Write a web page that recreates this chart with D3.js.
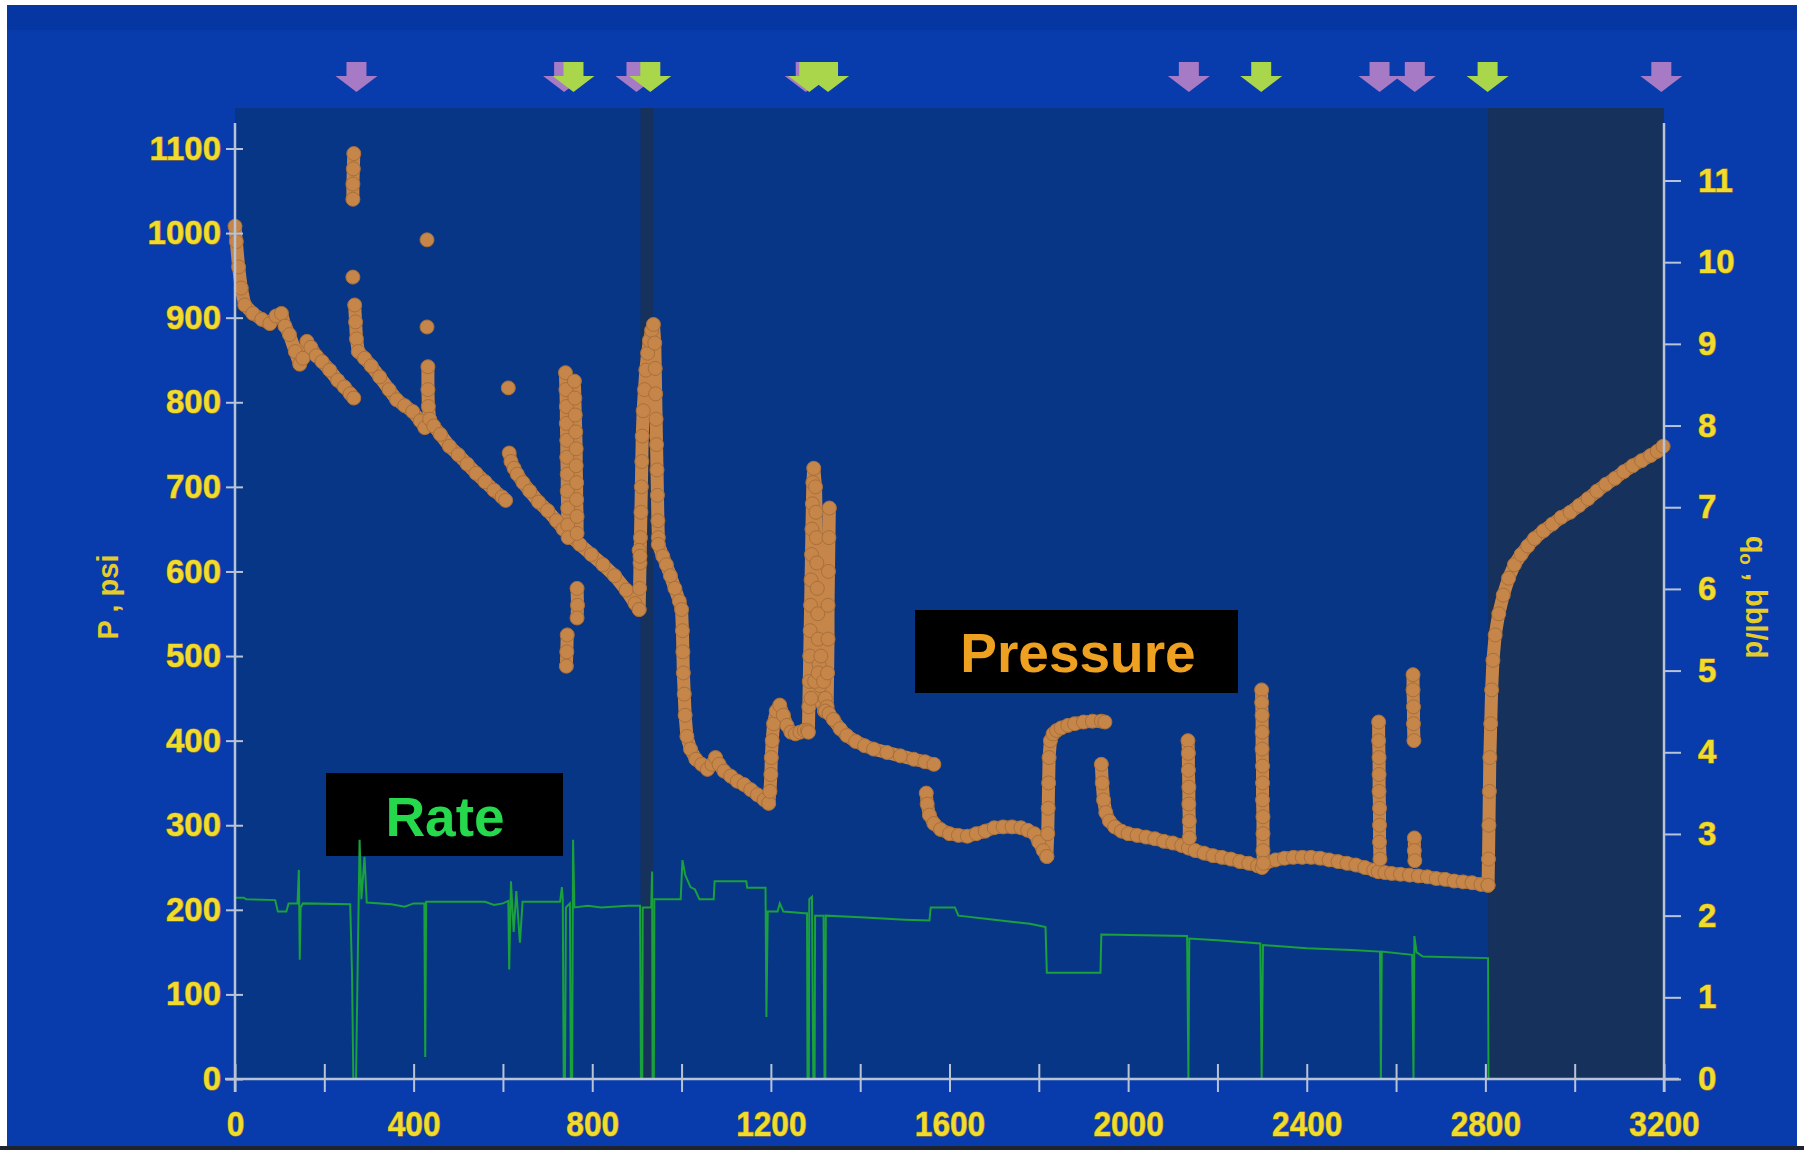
<!DOCTYPE html>
<html>
<head>
<meta charset="utf-8">
<script src="https://cdn.jsdelivr.net/npm/d3@7"></script>
<style>
  html, body { margin: 0; padding: 0; background: #ffffff; }
  svg { display: block; font-family: "Liberation Sans", Arial, sans-serif; font-weight: bold; }
</style>
</head>
<body>
<svg id="chart" width="1804" height="1150"></svg>
<script>
// ---- axis ticks ----
const timeTicks = [0, 200, 400, 600, 800, 1000, 1200, 1400, 1600, 1800, 2000, 2200, 2400, 2600, 2800, 3000, 3200];
const timeLabels = [0, 400, 800, 1200, 1600, 2000, 2400, 2800, 3200];
const pressureTicks = [0, 100, 200, 300, 400, 500, 600, 700, 800, 900, 1000, 1100];
const rateTicks = [0, 1, 2, 3, 4, 5, 6, 7, 8, 9, 10, 11];

// ---- shut-in / event markers (hours) ----
const purpleEvents = [272, 737, 899, 1278, 2136, 2563, 2642, 3194];
const greenEvents = [758, 930, 1286, 1328, 2298, 2805];
const shadedPeriods = [[908, 936], [2806, 3200]];

// ---- pressure, psi: each run is [hours, psi] ----
const pDecline1 = [[0,1008],[3,990],[8,960],[14,935],[22,915],[40,905],[60,898],[78,893],[92,902],[104,905],[112,890],[122,880],[135,860],[145,845],[152,852],[161,872],[170,865],[182,855],[195,848],[212,838],[230,826],[245,818],[258,810],[266,805]];
const pSpike264 = [[264,1040],[264,1058],[265,1076],[266,1094]];
const pDecline2 = [[268,915],[270,895],[272,875],[276,860],[290,852],[305,843],[324,830],[345,815],[362,803],[380,796],[398,789],[415,778],[425,770]];
const pDecline3 = [[432,842],[432,815],[433,795],[436,780],[445,772],[460,762],[480,748],[500,738],[520,727],[540,716],[560,706],[580,696],[598,688],[606,684]];
const pDecline4 = [[614,740],[618,730],[625,722],[632,715],[645,705],[660,695],[680,682],[700,672],[720,660],[735,650],[750,642],[772,632],[798,620],[824,608],[850,595],[876,578],[896,562],[905,555]];
const pColumn742 = [[740,835],[741,815],[742,795],[742,775],[743,755],[743,735],[744,715],[744,695],[745,675],[745,655],[746,640]];
const pColumn762 = [[760,825],[761,805],[762,785],[763,765],[764,745],[764,725],[765,705],[765,685],[766,665],[766,645]];
const pCluster744 = [[744,525],[743,505],[742,488]];
const pCluster766 = [[766,580],[767,560],[766,545]];
const pSpike930 = [[905,555],[906,580],[907,610],[908,640],[909,670],[910,700],[911,730],[912,760],[914,790],[917,815],[920,838],[924,858],[928,873],[933,885],[937,892],[940,870],[941,840],[942,810],[943,780],[944,750],[945,720],[946,690],[947,660],[948,640]];
const pDecline5 = [[948,632],[958,618],[966,608],[975,595],[985,580],[995,565],[1000,555],[1002,530],[1003,505],[1004,480],[1006,455],[1008,430],[1012,405],[1020,390],[1032,378],[1045,372],[1058,366],[1068,372],[1076,380],[1084,372],[1095,364],[1110,358],[1125,352],[1140,348],[1155,342],[1170,336],[1185,330],[1195,326]];
const pRise1200 = [[1195,326],[1198,340],[1200,360],[1201,380],[1203,400],[1206,420],[1212,435],[1220,442],[1228,430],[1236,418],[1245,410],[1255,408],[1265,410],[1275,412],[1282,412]];
const pSpike1290 = [[1284,410],[1285,440],[1286,470],[1287,500],[1288,530],[1289,560],[1290,590],[1291,620],[1292,650],[1293,680],[1294,705],[1296,722],[1300,700],[1301,670],[1302,640],[1303,610],[1304,580],[1305,550],[1306,520],[1308,490],[1310,465],[1314,445],[1320,435]];
const pCluster1300 = [[1290,450],[1298,470],[1306,480],[1312,500],[1318,470],[1322,450]];
const pSpike1328 = [[1326,440],[1327,480],[1328,520],[1328,560],[1329,600],[1330,640],[1331,675]];
const pDecline6 = [[1322,435],[1330,432],[1340,425],[1355,414],[1370,406],[1390,399],[1410,394],[1430,390],[1460,386],[1490,382],[1520,378],[1545,375],[1565,372]];
const pDecline7 = [[1548,338],[1550,325],[1555,312],[1565,302],[1580,295],[1600,290],[1620,288],[1640,287],[1660,290],[1680,293],[1700,297],[1720,298],[1740,298],[1760,297],[1775,294],[1790,290],[1800,280],[1810,270],[1818,263]];
const pBuildup1820 = [[1818,263],[1820,290],[1821,320],[1822,350],[1823,380],[1826,400],[1832,408],[1840,412],[1850,415],[1865,418],[1880,420],[1900,422],[1920,423],[1940,423],[1948,422]];
const pDecline8 = [[1940,372],[1942,350],[1945,330],[1950,315],[1958,305],[1970,298],[1985,293],[2000,290],[2020,288],[2040,286],[2060,284],[2080,281],[2100,279],[2120,276],[2135,273],[2150,270],[2170,267],[2190,264],[2210,262],[2230,260],[2250,257],[2270,255],[2290,252],[2300,250],[2310,256],[2330,259],[2350,261],[2370,262],[2390,262],[2410,262],[2430,261],[2450,259],[2470,257],[2490,255],[2510,253],[2530,250],[2550,247],[2560,245],[2575,244],[2590,243],[2610,242],[2630,241],[2650,240],[2670,239],[2690,237],[2710,236],[2730,234],[2750,233],[2770,232],[2790,230],[2806,229]];
const pSpike2135 = [[2134,400],[2135,385],[2135,365],[2136,345],[2136,325],[2137,305],[2137,285]];
const pSpike2300 = [[2299,460],[2299,445],[2300,430],[2300,410],[2300,390],[2301,370],[2301,350],[2301,330],[2302,310],[2302,290],[2302,270],[2303,255]];
const pSpike2562 = [[2561,422],[2561,400],[2562,380],[2562,360],[2562,340],[2563,320],[2563,300],[2563,280],[2564,260]];
const pSpike2640 = [[2638,478],[2638,460],[2639,440],[2639,420],[2640,400]];
const pCluster2641 = [[2641,285],[2641,270],[2642,258]];
const pBuildup2807 = [[2806,229],[2807,260],[2808,300],[2809,340],[2810,380],[2812,420],[2814,460],[2817,495],[2822,525],[2830,550],[2840,572],[2852,592],[2865,608],[2880,620],[2895,630],[2910,639],[2930,648],[2950,656],[2970,664],[2990,670],[3010,678],[3030,686],[3050,695],[3070,703],[3090,710],[3110,718],[3130,725],[3150,731],[3170,737],[3185,742],[3198,748]];
const pressureDots = [[264,948],[430,992],[430,889],[612,817],[905,625],[907,618]];

// ---- oil rate, bbl/d: [hours, q] ----
const oilRate = [[0,2.22],[20,2.22],[25,2.2],[90,2.19],[96,2.05],[115,2.05],[120,2.15],[140,2.15],[143,2.56],[145,1.46],[147,2.1],[152,2.15],[258,2.14],[262,1.3],[265,0],[271,0],[275,1.5],[279,2.93],[283,2.2],[290,2.72],[295,2.16],[350,2.14],[380,2.11],[400,2.15],[424,2.15],[426,0.27],[428,2.17],[560,2.17],[580,2.13],[600,2.15],[612,2.18],[614,1.34],[618,2.42],[624,1.8],[630,2.3],[638,1.67],[644,2.17],[728,2.17],[732,2.35],[734,2.2],[736,0],[739,0],[741,2.1],[750,2.15],[752,0],[755,0],[757,2.93],[760,2.1],[790,2.12],[820,2.1],[880,2.12],[907,2.12],[909,0],[912,0],[913,2.1],[932,2.1],[934,2.54],[935,0],[938,0],[939,2.2],[998,2.2],[1002,2.68],[1008,2.5],[1020,2.35],[1030,2.32],[1040,2.2],[1072,2.2],[1074,2.42],[1145,2.42],[1147,2.34],[1188,2.34],[1190,0.76],[1193,2.05],[1215,2.05],[1220,2.15],[1228,2.05],[1276,2.03],[1281,2.03],[1282,0],[1285,0],[1286,2.2],[1292,2.23],[1295,0],[1298,0],[1299,2.0],[1318,2.0],[1320,0],[1322,0],[1323,2.0],[1400,1.98],[1500,1.95],[1555,1.94],[1558,2.1],[1612,2.1],[1620,2.0],[1700,1.95],[1780,1.9],[1815,1.86],[1818,1.3],[1938,1.3],[1940,1.77],[2132,1.75],[2135,0],[2137,1.72],[2200,1.7],[2296,1.66],[2299,0],[2302,1.64],[2400,1.6],[2500,1.58],[2564,1.56],[2566,0],[2568,1.56],[2636,1.52],[2639,0],[2641,1.75],[2646,1.55],[2660,1.5],[2806,1.48],[2807,0],[3200,0]];

const pressureRuns = [pDecline1, pSpike264, pDecline2, pDecline3, pDecline4, pColumn742, pColumn762, pCluster744, pCluster766,
  pSpike930, pDecline5, pRise1200, pSpike1290, pCluster1300, pSpike1328, pDecline6, pDecline7, pBuildup1820, pDecline8,
  pSpike2135, pSpike2300, pSpike2562, pSpike2640, pCluster2641, pBuildup2807];

// ---- colours ----
const C = {
  frame: "#083bab", band: "#0636a2", plot: "#083686", shade: "#15315c", axis: "#b9c3d6",
  tick: "#f0dc2c", tickEdge: "#a8801a", pressure: "#c6864a", pressureEdge: "#a8703a",
  rate: "#1aa03c", purple: "#a77ac6", green: "#a9d64a"
};

const svg = d3.select("#chart");
const x = d3.scaleLinear().domain([0, 3200]).range([235, 1664]);
const yP = d3.scaleLinear().domain([0, 1100]).range([1079, 148.5]);
const yQ = d3.scaleLinear().domain([0, 11]).range([1079, 180.5]);

// frame
svg.append("rect").attr("x", 7).attr("y", 5).attr("width", 1790).attr("height", 1141).attr("fill", C.frame);
svg.append("rect").attr("x", 7).attr("y", 5).attr("width", 1790).attr("height", 25).attr("fill", C.band);
svg.append("rect").attr("x", 0).attr("y", 1146).attr("width", 1804).attr("height", 4).attr("fill", "#1d2430");

// plot area
const plotTop = 108;
svg.append("rect").attr("x", x(0)).attr("y", plotTop).attr("width", x(3200) - x(0)).attr("height", yP(0) - plotTop).attr("fill", C.plot);
svg.selectAll("rect.shade").data(shadedPeriods).join("rect").attr("class", "shade")
  .attr("x", d => x(d[0])).attr("y", plotTop).attr("width", d => x(d[1]) - x(d[0])).attr("height", yP(0) - plotTop)
  .attr("fill", C.shade);

// event arrows
const arrowShape = "M-10,62H10V76H21L0,92L-21,76H-10Z";
svg.selectAll("path.evP").data(purpleEvents).join("path").attr("class", "evP")
  .attr("transform", d => `translate(${x(d)},0)`).attr("d", arrowShape).attr("fill", C.purple);
svg.selectAll("path.evG").data(greenEvents).join("path").attr("class", "evG")
  .attr("transform", d => `translate(${x(d)},0)`).attr("d", arrowShape).attr("fill", C.green);

// label boxes
svg.append("rect").attr("x", 326).attr("y", 773).attr("width", 237).attr("height", 83).attr("fill", "#000");
svg.append("text").attr("x", 445).attr("y", 836).attr("text-anchor", "middle").attr("font-size", 55)
  .attr("fill", "#25d84c").text("Rate");
svg.append("rect").attr("x", 915).attr("y", 610).attr("width", 323).attr("height", 83).attr("fill", "#000");
svg.append("text").attr("x", 1078).attr("y", 672).attr("text-anchor", "middle").attr("font-size", 55)
  .attr("fill", "#eea020").text("Pressure");

// rate trace (right axis)
const rateLine = d3.line().x(d => x(d[0])).y(d => yQ(d[1]));
svg.append("path").attr("d", rateLine(oilRate)).attr("fill", "none").attr("stroke", C.rate).attr("stroke-width", 2);

// pressure trace (left axis)
const pLine = d3.line().x(d => x(d[0])).y(d => yP(d[1]));
const pg = svg.append("g");
pressureRuns.forEach(run => {
  pg.append("path").attr("d", pLine(run)).attr("fill", "none").attr("stroke", C.pressure)
    .attr("stroke-width", 13).attr("stroke-linecap", "round").attr("stroke-linejoin", "round");
});
pg.selectAll("circle").data(pressureRuns.flat().concat(pressureDots)).join("circle")
  .attr("cx", d => x(d[0])).attr("cy", d => yP(d[1])).attr("r", 7)
  .attr("fill", C.pressure).attr("stroke", C.pressureEdge).attr("stroke-width", 1);

// axes
function styleText(sel, size) {
  sel.selectAll("text").attr("fill", C.tick).attr("stroke", C.tickEdge).attr("stroke-width", 1.2)
    .attr("paint-order", "stroke").attr("font-size", size).attr("font-family", "Liberation Sans, Arial, sans-serif")
    .attr("font-weight", "bold");
}
const axL = svg.append("g").attr("transform", `translate(${x(0)},0)`)
  .call(d3.axisLeft(yP).tickValues(pressureTicks).tickSize(9).tickPadding(5).tickFormat(d3.format("d")));
axL.select(".domain").remove();
axL.selectAll(".tick line").attr("x2", -9).attr("x1", 8).attr("stroke", C.axis).attr("stroke-width", 2);
styleText(axL, 33);

const axR = svg.append("g").attr("transform", `translate(${x(3200)},0)`)
  .call(d3.axisRight(yQ).tickValues(rateTicks).tickSize(17).tickPadding(17).tickFormat(d3.format("d")));
axR.select(".domain").remove();
axR.selectAll(".tick line").attr("stroke", C.axis).attr("stroke-width", 2);
styleText(axR, 33);

const axB = svg.append("g").attr("transform", `translate(0,${yP(0)})`)
  .call(d3.axisBottom(x).tickValues(timeTicks).tickSize(13)
    .tickFormat(d => timeLabels.includes(d) ? String(d) : ""));
axB.select(".domain").remove();
axB.selectAll(".tick line").attr("y1", -15).attr("stroke", C.axis).attr("stroke-width", 2);
styleText(axB, 36);
axB.selectAll(".tick text").attr("y", 57).attr("dy", 0).attr("transform", "scale(0.88,1)");

// axis spines
svg.append("line").attr("x1", x(0)).attr("x2", x(0)).attr("y1", 123).attr("y2", yP(0) + 13)
  .attr("stroke", C.axis).attr("stroke-width", 2.5);
svg.append("line").attr("x1", x(3200)).attr("x2", x(3200)).attr("y1", 123).attr("y2", yP(0) + 13)
  .attr("stroke", C.axis).attr("stroke-width", 2.5);
svg.append("line").attr("x1", x(0) - 10).attr("x2", x(3200) + 15).attr("y1", yP(0)).attr("y2", yP(0))
  .attr("stroke", C.axis).attr("stroke-width", 2.5);

// axis titles
svg.append("text").attr("transform", "translate(118,597) rotate(-90)").attr("text-anchor", "middle")
  .attr("font-size", 29).attr("fill", "#e6cc2a").text("P , psi");
const qt = svg.append("text").attr("transform", "translate(1746,597) rotate(90)").attr("text-anchor", "middle")
  .attr("font-size", 29).attr("fill", "#e6cc2a");
qt.append("tspan").text("q");
qt.append("tspan").attr("font-size", 19).attr("dy", 6).text("o");
qt.append("tspan").attr("dy", -6).text(" , bbl/d");
</script>
</body>
</html>
